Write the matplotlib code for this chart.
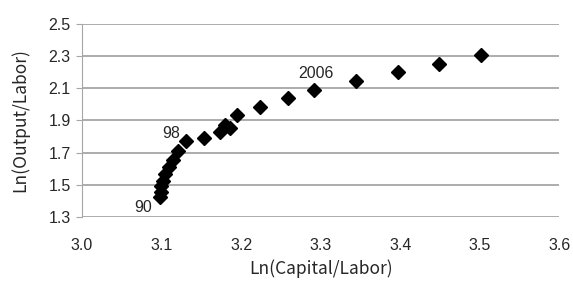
import numpy as np
import matplotlib.pyplot as plt

years = [1990, 1991, 1992, 1993, 1994, 1995, 1996, 1997, 1998, 1999, 2000,
         2001, 2002, 2003, 2004, 2005, 2006, 2007, 2008, 2009, 2010]
ln_cap = [3.098, 3.099, 3.100, 3.102, 3.105, 3.109, 3.114, 3.121, 3.131,
          3.154, 3.174, 3.180, 3.186, 3.195, 3.224, 3.259, 3.292,
          3.345, 3.397, 3.449, 3.502]
ln_out = [1.425, 1.455, 1.490, 1.525, 1.565, 1.610, 1.655, 1.710, 1.775,
          1.789, 1.830, 1.872, 1.851, 1.934, 1.986, 2.038, 2.090,
          2.146, 2.200, 2.251, 2.307]
labels = {1990: '90', 1998: '98', 2006: '2006'}

plt.rcParams['font.family'] = ['Liberation Sans', 'DejaVu Sans']
txt_color = '#262626'

fig = plt.figure(figsize=(5.73, 2.81), dpi=100)
ax = fig.add_axes([0.143, 0.228, 0.833, 0.687])

ax.plot(ln_cap, ln_out, linestyle='none', marker='D', markersize=7,
        color='black', zorder=3)

offsets = {1990: (-12, -8), 1998: (-11, 5), 2006: (1, 12)}
for yr, txt in labels.items():
    i = years.index(yr)
    ax.annotate(txt, (ln_cap[i], ln_out[i]), xytext=offsets[yr],
                textcoords='offset points', ha='center', va='center',
                fontsize=11.5, color=txt_color)

ax.set_xlim(3.0, 3.6)
ax.set_ylim(1.3, 2.5)
xt = np.arange(3.0, 3.61, 0.1)
yt = np.arange(1.3, 2.51, 0.2)
ax.set_xticks(xt)
ax.set_yticks(yt)
ax.set_xticklabels(['%.1f' % v for v in xt])
ax.set_yticklabels(['%.1f' % v for v in yt])
ax.grid(axis='y', color='#a6a6a6', linewidth=1.3)
ax.set_axisbelow(True)
for s in ['top', 'right', 'bottom']:
    ax.spines[s].set_visible(False)
ax.spines['left'].set_color('#a6a6a6')
ax.tick_params(axis='y', length=4, color='#a6a6a6', labelsize=11.5,
               labelcolor=txt_color, pad=4)
ax.tick_params(axis='x', length=0, labelsize=11.5, labelcolor=txt_color,
               pad=15)

ax.set_xlabel('Ln(Capital/Labor)', fontsize=12.5, labelpad=5, color=txt_color,
              family=['Noto Sans CJK KR', 'DejaVu Sans'])
ax.set_ylabel('Ln(Output/Labor)', fontsize=12.5, labelpad=14, color=txt_color,
              family=['Noto Sans CJK KR', 'DejaVu Sans'])

fig.savefig('out.png', dpi=100)
